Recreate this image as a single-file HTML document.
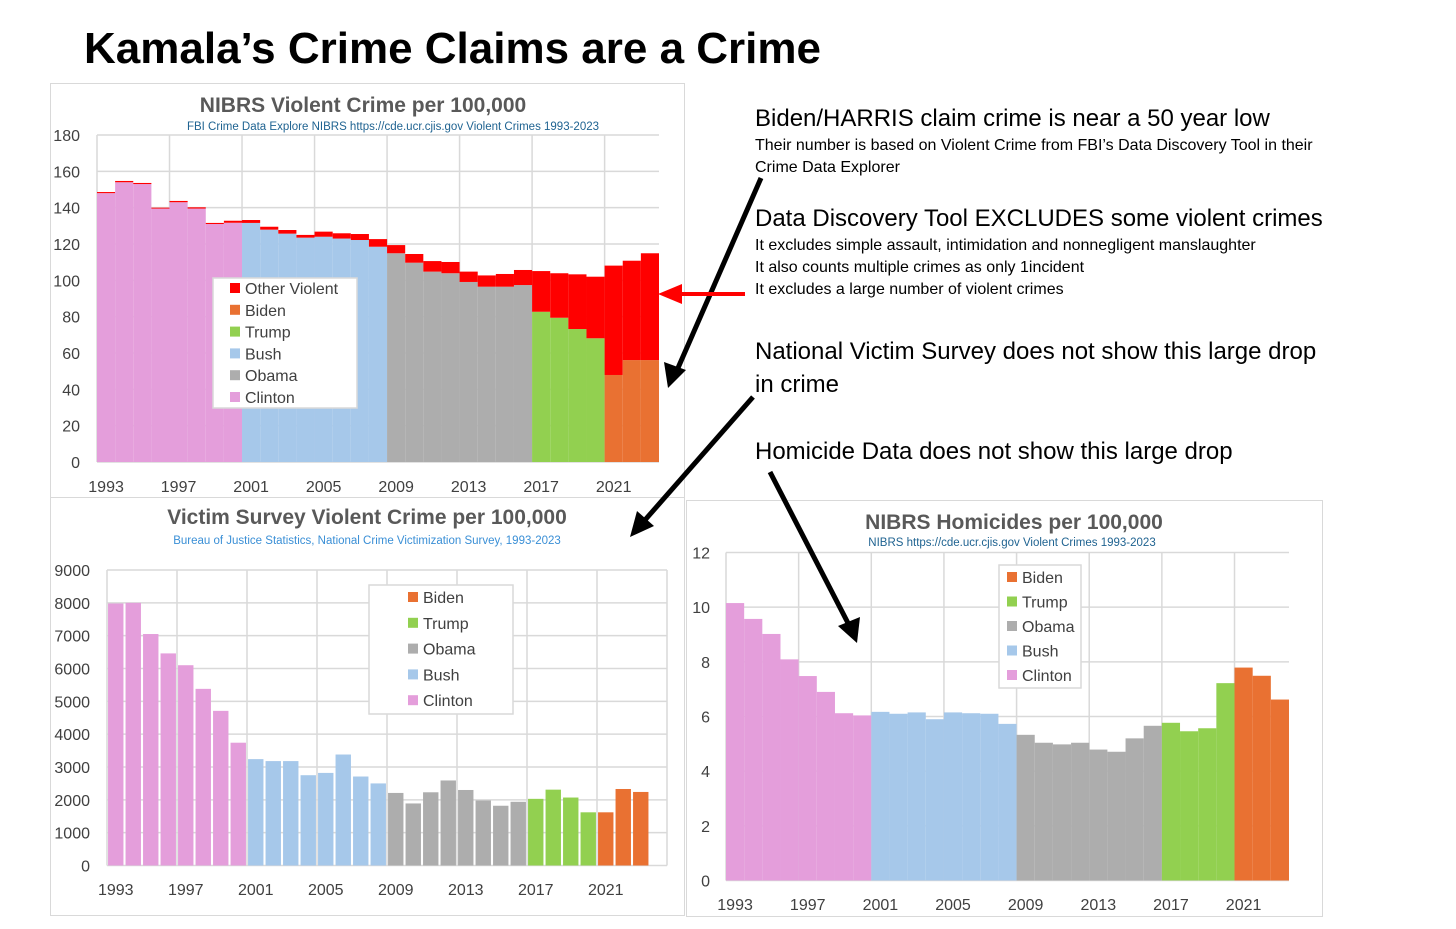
<!DOCTYPE html>
<html><head><meta charset="utf-8"><style>
html,body{margin:0;padding:0;background:#fff;}
svg{display:block;font-family:"Liberation Sans",sans-serif;}
</style></head><body>
<svg id="page" xmlns="http://www.w3.org/2000/svg" width="1456" height="929" viewBox="0 0 1456 929">
<rect x="0" y="0" width="1456" height="929" fill="#fff"/>
<text x="84" y="63" font-size="44" font-weight="bold" fill="#000">Kamala’s Crime Claims are a Crime</text>

<rect x="50.5" y="83.5" width="634" height="414" fill="none" stroke="#d9d9d9"/>
<rect x="50.5" y="497.5" width="634" height="418" fill="none" stroke="#d9d9d9"/>
<rect x="686.5" y="500.5" width="636" height="416" fill="none" stroke="#d9d9d9"/>

<text x="363" y="112" font-size="21" font-weight="bold" fill="#595959" text-anchor="middle">NIBRS Violent Crime per 100,000</text>
<text x="393" y="130" font-size="11.5" fill="#1f6391" text-anchor="middle">FBI Crime Data Explore NIBRS https://cde.ucr.cjis.gov Violent Crimes  1993-2023</text>
<text x="367" y="524" font-size="21" font-weight="bold" fill="#595959" text-anchor="middle">Victim Survey Violent Crime per 100,000</text>
<text x="367" y="544" font-size="11.5" fill="#3a8fd6" text-anchor="middle">Bureau of Justice Statistics, National Crime Victimization Survey, 1993-2023</text>
<text x="1014" y="529" font-size="21" font-weight="bold" fill="#595959" text-anchor="middle">NIBRS Homicides per 100,000</text>
<text x="1012" y="546" font-size="11.5" fill="#1f6391" text-anchor="middle">NIBRS https://cde.ucr.cjis.gov Violent Crimes  1993-2023</text>

<g id="c1"></g>
<g id="c2"></g>
<g id="c3"></g>

<g fill="#000">
<text x="755" y="126" font-size="24">Biden/HARRIS claim crime is near a 50 year low</text>
<text x="755" y="150" font-size="16">Their number is based on Violent Crime from FBI’s Data Discovery Tool in their</text>
<text x="755" y="172" font-size="16">Crime Data Explorer</text>
<text x="755" y="226" font-size="24">Data Discovery Tool EXCLUDES  some violent crimes</text>
<text x="755" y="250" font-size="16">It excludes simple assault, intimidation and nonnegligent manslaughter</text>
<text x="755" y="272" font-size="16">It also counts multiple crimes as only 1incident</text>
<text x="755" y="294" font-size="16">It excludes a large number of violent crimes</text>
<text x="755" y="359" font-size="24">National Victim Survey does not show this large drop</text>
<text x="755" y="392" font-size="24">in crime</text>
<text x="755" y="459" font-size="24">Homicide Data does not show this large drop</text>
</g>

<g>
<line x1="761" y1="178" x2="678" y2="368" stroke="#000" stroke-width="5"/>
<polygon points="668,388 664,362 686,370" fill="#000"/>
<line x1="745" y1="294" x2="678" y2="294" stroke="#f00" stroke-width="4"/>
<polygon points="658,294 682,284 682,304" fill="#f00"/>
<line x1="753" y1="397" x2="645" y2="520" stroke="#000" stroke-width="5"/>
<polygon points="630,537 637,511 654,526" fill="#000"/>
<line x1="770" y1="472" x2="849" y2="625" stroke="#000" stroke-width="5"/>
<polygon points="857,643 838,626 860,617" fill="#000"/>
</g>
</svg>
<script>
const years = [1993,1994,1995,1996,1997,1998,1999,2000,2001,2002,2003,2004,2005,2006,2007,2008,2009,2010,2011,2012,2013,2014,2015,2016,2017,2018,2019,2020,2021,2022,2023];
const nibrsTotal = [148.6,154.7,153.6,140,143.7,140.2,131.6,132.8,133.2,129.5,127.7,125,126.8,125.9,125.5,122.7,119.4,114.5,110.6,110.1,104.8,102.7,103.5,105.7,105.1,103.9,103.3,102,108.1,110.8,114.9];
const nibrsDiscovery = [148,154,153,139.5,143,139.5,131,131.7,131.6,127.9,125.7,123.5,124,123,122.2,118.5,114.9,109.7,104.8,103.9,99.1,96.5,96.5,97.4,82.7,79.4,73.2,68.1,47.9,56.1,56.1];
const victimSurvey = [7980,8000,7050,6460,6100,5380,4710,3740,3240,3180,3180,2750,2820,3380,2710,2500,2210,1890,2230,2590,2300,1980,1820,1940,2030,2310,2070,1620,1620,2330,2240];
const homicides = [10.15,9.57,9.02,8.09,7.48,6.9,6.12,6.04,6.17,6.1,6.15,5.9,6.15,6.12,6.1,5.73,5.33,5.04,4.98,5.04,4.79,4.71,5.2,5.66,5.77,5.46,5.57,7.22,7.79,7.49,6.62];
const ticks1 = [0,20,40,60,80,100,120,140,160,180];
const ticks2 = [0,1000,2000,3000,4000,5000,6000,7000,8000,9000];
const ticks3 = [0,2,4,6,8,10,12];
const xTickYears = [1993,1997,2001,2005,2009,2013,2017,2021];
const presidents = ["Clinton","Bush","Obama","Trump","Biden"];
const presColors = {Clinton:"#E49EDB",Bush:"#A6C8EA",Obama:"#ADADAD",Trump:"#92D050",Biden:"#E97132"};
function presFor(y){ if(y<=2000) return "Clinton"; if(y<=2008) return "Bush"; if(y<=2016) return "Obama"; if(y<=2020) return "Trump"; return "Biden"; }
const NS="http://www.w3.org/2000/svg";
function mk(parent,tag,attrs){ const e=document.createElementNS(NS,tag); for(const k in attrs) e.setAttribute(k,attrs[k]); parent.appendChild(e); return e; }

function drawChart(gid, cfg){
  const g=document.getElementById(gid);
  const slot=cfg.slot;
  const xOf=i=>cfg.left+i*slot;
  const yOf=v=>cfg.y0-(v-0)/cfg.max*(cfg.y0-cfg.yTop);
  // grid
  cfg.ticks.forEach(t=>{
    const y=yOf(t);
    const l=mk(g,"line",{x1:cfg.left,x2:cfg.right,y1:y,y2:y,stroke:"#d9d9d9","stroke-width":1.5});
    
    
    const tx=mk(g,"text",{x:cfg.labelX,y:y+6,"font-size":16,fill:"#404040","text-anchor":"end"});
    tx.textContent=String(t);
    
    
  });
  for(let i=0;i*4*slot<=cfg.right-cfg.left+1;i++){
    const x=cfg.left+i*4*slot;
    const l=mk(g,"line",{x1:x,x2:x,y1:cfg.yTop,y2:cfg.y0,stroke:"#d9d9d9","stroke-width":1.5});
    
    
  }
  years.forEach((yr,i)=>{
    const c=presColors[presFor(yr)];
    const w=slot*cfg.barFrac, x=xOf(i)+(slot-w)/2;
    const base=cfg.base[i];
    const r=mk(g,"rect",{x:x,y:yOf(base),width:w,height:yOf(0)-yOf(base),fill:c});
    
    
    if(cfg.total){
      const t=cfg.total[i];
      const r2=mk(g,"rect",{x:x,y:yOf(t),width:w,height:Math.max(0,yOf(base)-yOf(t)),fill:"#FF0000"});
      
      
    }
  });
  xTickYears.forEach(yr=>{
    const i=years.indexOf(yr);
    const tx=mk(g,"text",{x:xOf(i)+slot/2,y:cfg.xLabelY,"font-size":16,fill:"#404040","text-anchor":"middle"});
    tx.textContent=String(yr);
    
    
  });
  // legend
  const L=cfg.legend;
  const box=mk(g,"rect",{x:L.x,y:L.y,width:L.w,height:L.h,fill:"#fff",stroke:"#d9d9d9","stroke-width":1.5});
  
  
  L.items.forEach((name,k)=>{
    const cy=L.y+L.pad+k*L.step;
    const col=name==="Other Violent"?"#FF0000":presColors[name];
    const sw=mk(g,"rect",{x:L.x+L.sx,y:cy-5,width:10,height:10,fill:col});
    
    
    const tx=mk(g,"text",{x:L.x+L.sx+15,y:cy+6,"font-size":16,fill:"#404040"});
    tx.textContent=name;
    
    
  });
}
drawChart("c1",{left:97,right:659,slot:562/31,y0:462,yTop:135,max:180,ticks:ticks1,labelX:80,xLabelY:492,barFrac:1,base:nibrsDiscovery,total:nibrsTotal,
  legend:{x:213,y:278,w:144,h:130,pad:10,step:21.8,sx:17,items:["Other Violent","Biden","Trump","Bush","Obama","Clinton"]}});
drawChart("c2",{left:107,right:667,slot:17.5,y0:865.5,yTop:570,max:9000,ticks:ticks2,labelX:90,xLabelY:895,barFrac:0.88,base:victimSurvey,
  legend:{x:369,y:585,w:144,h:129,pad:12,step:25.8,sx:39,items:["Biden","Trump","Obama","Bush","Clinton"]}});
drawChart("c3",{left:726,right:1289,slot:563/31,y0:880.5,yTop:552.5,max:12,ticks:ticks3,labelX:710,xLabelY:910,barFrac:1,base:homicides,
  legend:{x:999,y:565,w:82,h:123,pad:12,step:24.5,sx:8,items:["Biden","Trump","Obama","Bush","Clinton"]}});
</script>
</body></html>
